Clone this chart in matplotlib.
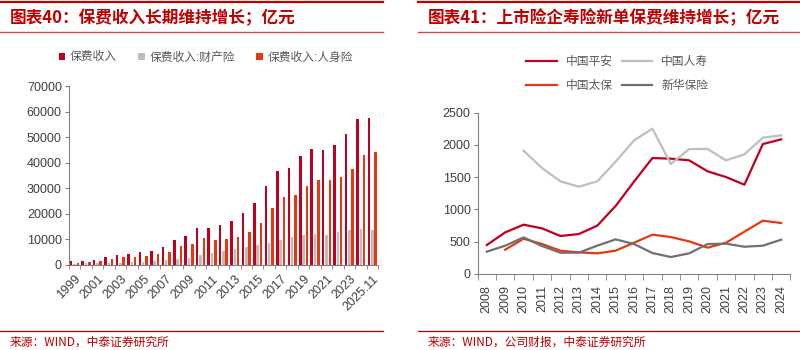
import numpy as np
import matplotlib
matplotlib.use("Agg")
import matplotlib.pyplot as plt
from matplotlib.lines import Line2D

plt.rcParams['font.family'] = ['Liberation Sans', 'Noto Sans CJK SC', 'DejaVu Sans']

# ---- datos panel izquierdo (亿元) ----
anios = [str(a) for a in range(1999, 2025)] + ['2025.11']
prima_total = [1393, 1596, 2109, 3053, 3880, 4318, 4927, 5641, 7036, 9784,
               11137, 14528, 14339, 15488, 17222, 20235, 24283, 30959, 36581,
               38017, 42645, 45257, 44900, 46957, 51247, 56963, 57700]
prima_propiedad = [521, 598, 685, 778, 869, 1090, 1229, 1509, 1998, 2337,
                   2876, 3895, 4618, 5331, 6212, 7203, 7995, 8725, 9835,
                   10770, 11649, 11929, 11671, 12712, 13607, 14035, 13500]
prima_vida = [872, 998, 1424, 2275, 3011, 3228, 3697, 4132, 5038, 7447,
              8261, 10632, 9721, 10157, 11010, 13031, 16288, 22235, 26746,
              27247, 30995, 33329, 33229, 34245, 37640, 42928, 44200]
series_izq = ['保费收入', '保费收入:财产险', '保费收入:人身险']

# ---- datos panel derecho (亿元) ----
anios_der = [str(a) for a in range(2008, 2025)]
pingan = [445, 642, 761, 704, 585, 616, 745, 1051, 1429, 1796, 1786, 1760,
          1589, 1501, 1382, 2013, 2086]
renshou = [None, None, 1910, 1641, 1434, 1351, 1434, 1739, 2070, 2252, 1703,
           1936, 1936, 1760, 1853, 2112, 2148]
taibao = [None, 373, 543, 461, 357, 331, 316, 357, 481, 606, 569, 502, 404,
          481, 652, 823, 787]
xinhua = [342, 435, 564, 430, 326, 326, 435, 533, 461, 321, 259, 316, 461,
          466, 419, 435, 528]
series_der = ['中国平安', '中国人寿', '中国太保', '新华保险']

ROJO = '#C00020'
NARANJA = '#E8380D'
GRIS_CLARO = '#BEBEBE'
GRIS_OSCURO = '#707070'
ROJO_TITULO = '#C00000'
TEXTO = '#404040'
EJE = '#808080'

fig = plt.figure(figsize=(8, 3.5), dpi=100)

# ---- encabezados y pies ----
for x0, x1 in [(0.0, 0.479), (0.5225, 1.0)]:
    fig.add_artist(Line2D([x0, x1], [0.995, 0.995], color=ROJO_TITULO, lw=1.6))
    fig.add_artist(Line2D([x0, x1], [0.908, 0.908], color='#D04848', lw=1.0))
    fig.add_artist(Line2D([x0, x1], [0.054, 0.054], color=ROJO_TITULO, lw=0.9))

fig.text(0.012, 0.948, '图表40：保费收入长期维持增长；亿元', color=ROJO_TITULO,
         fontsize=12, fontweight='bold', va='center', ha='left',
         family=['Noto Sans CJK SC'])
fig.text(0.535, 0.948, '图表41：上市险企寿险新单保费维持增长；亿元', color=ROJO_TITULO,
         fontsize=12, fontweight='bold', va='center', ha='left',
         family=['Noto Sans CJK SC'])
fig.text(0.012, 0.023, '来源：WIND，中泰证券研究所', color=ROJO_TITULO,
         fontsize=8.5, va='center', ha='left', family=['Noto Sans CJK SC'])
fig.text(0.535, 0.023, '来源：WIND，公司财报，中泰证券研究所', color=ROJO_TITULO,
         fontsize=8.5, va='center', ha='left', family=['Noto Sans CJK SC'])


def estilo_ejes(ax):
    for lado in ['top', 'right']:
        ax.spines[lado].set_visible(False)
    for lado in ['left', 'bottom']:
        ax.spines[lado].set_color(EJE)
        ax.spines[lado].set_linewidth(0.8)
    ax.tick_params(axis='y', direction='out', length=3, color=EJE,
                   labelsize=9, labelcolor=TEXTO, pad=2)


# ---- panel izquierdo: barras ----
ax1 = fig.add_axes([0.086, 0.243, 0.3865, 0.511])
x = np.arange(len(anios))
ancho = 0.22
ax1.bar(x - 0.29, prima_total, ancho, color=ROJO, label=series_izq[0])
ax1.bar(x, prima_propiedad, ancho, color=GRIS_CLARO, label=series_izq[1])
ax1.bar(x + 0.29, prima_vida, ancho, color=NARANJA, label=series_izq[2])
ax1.set_xlim(-0.5, len(anios) - 0.5)
ax1.set_ylim(0, 70000)
ax1.set_yticks(np.arange(0, 70001, 10000))
estilo_ejes(ax1)
pos = list(range(0, 25, 2)) + [26]
ax1.set_xticks(pos)
ax1.set_xticklabels([anios[i] for i in pos], rotation=45, ha='right',
                    rotation_mode='anchor')
ax1.set_xticks(np.arange(-0.5, len(anios), 1), minor=True)
ax1.tick_params(axis='x', which='major', length=0, labelsize=9,
                labelcolor=TEXTO, pad=6)
ax1.tick_params(axis='x', which='minor', direction='out', length=3, color=EJE)
ax1.legend(loc='center', bbox_to_anchor=(0.443, 1.16), ncol=3, frameon=False,
           fontsize=8.5, handlelength=0.55, handleheight=0.55,
           handletextpad=0.4, columnspacing=1.8, labelcolor='#595959')

# ---- panel derecho: lineas ----
ax2 = fig.add_axes([0.597, 0.218, 0.391, 0.46])
xd = np.arange(len(anios_der))


def a_array(v):
    return np.array([np.nan if e is None else e for e in v], dtype=float)


l1, = ax2.plot(xd, a_array(pingan), color=ROJO, lw=1.6, label=series_der[0])
l2, = ax2.plot(xd, a_array(renshou), color=GRIS_CLARO, lw=1.6, label=series_der[1])
l3, = ax2.plot(xd, a_array(taibao), color=NARANJA, lw=1.6, label=series_der[2])
l4, = ax2.plot(xd, a_array(xinhua), color=GRIS_OSCURO, lw=1.6, label=series_der[3])
ax2.set_xlim(-0.5, len(anios_der) - 0.5)
ax2.set_ylim(0, 2500)
ax2.set_yticks(np.arange(0, 2501, 500))
estilo_ejes(ax2)
ax2.set_xticks(xd)
ax2.set_xticklabels(anios_der, rotation=90)
ax2.set_xticks(np.arange(-0.5, len(anios_der), 1), minor=True)
ax2.tick_params(axis='x', which='major', length=0, labelsize=9,
                labelcolor=TEXTO, pad=8)
ax2.tick_params(axis='x', which='minor', direction='out', length=4, color=EJE)
# orden por columnas para que las filas queden 平安/人寿 y 太保/新华
ax2.legend([l1, l3, l2, l4], [series_der[0], series_der[2], series_der[1], series_der[3]],
           loc='center', bbox_to_anchor=(0.446, 1.24), ncol=2, frameon=False,
           fontsize=8.5, handlelength=2.6, handletextpad=0.75,
           columnspacing=0.75, labelspacing=1.0, labelcolor='#595959')

fig.savefig('out.png', dpi=100)
